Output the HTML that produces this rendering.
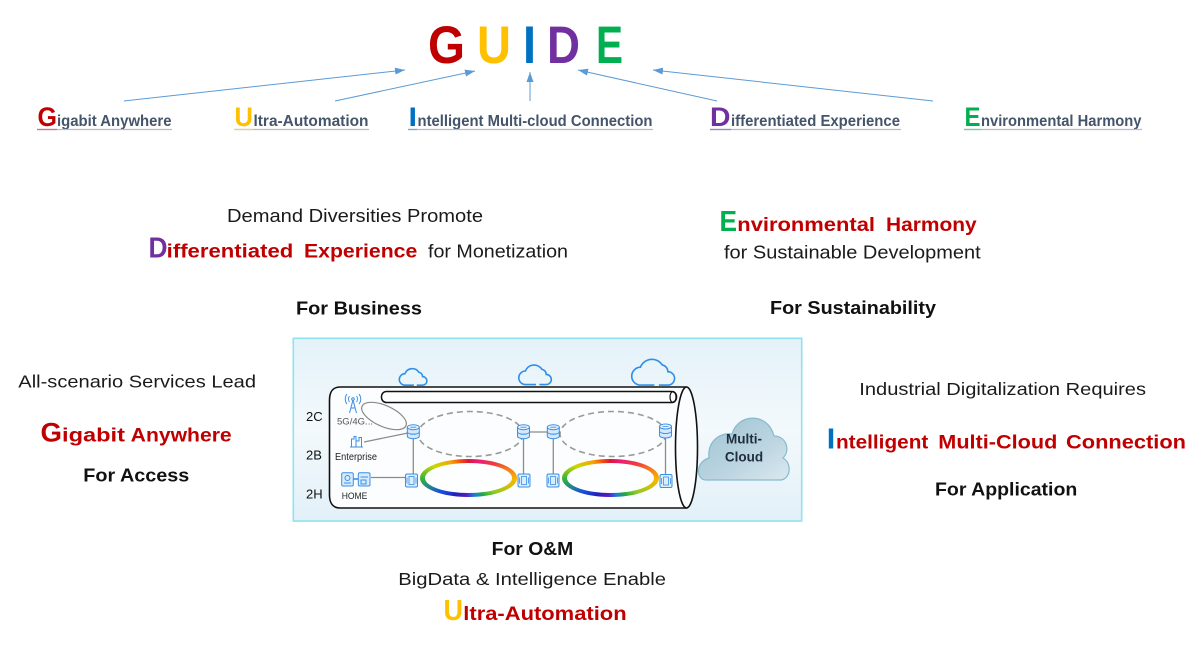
<!DOCTYPE html>
<html><head><meta charset="utf-8">
<style>
html,body{margin:0;padding:0;background:#fff;}
#wrap{position:relative;width:1200px;height:650px;overflow:hidden;background:#fff;}
svg{position:absolute;left:0;top:0;}
.ring{position:absolute;border-radius:50%;background:conic-gradient(#e0143c 0deg,#ea1f78 35deg,#f03a3a 62deg,#f7b800 92deg,#8ccc20 118deg,#20a848 138deg,#1878e0 162deg,#5a18c0 188deg,#2020b8 220deg,#1850e0 245deg,#30b040 268deg,#c8d800 288deg,#f8a000 312deg,#f04a10 335deg,#e0143c 360deg);}
.hole{position:absolute;border-radius:50%;background:#fdfeff;}
</style></head><body><div id="wrap">
<svg width="1200" height="650" font-family="'Liberation Sans', Arial, sans-serif">
<defs>
<marker id="ah" viewBox="0 0 10 7" refX="10" refY="3.5" markerWidth="10" markerHeight="7" markerUnits="userSpaceOnUse" orient="auto"><path d="M0,0 L10,3.5 L0,7 z" fill="#5b9bd5"/></marker>
<linearGradient id="boxg" x1="0" y1="0" x2="0" y2="1"><stop offset="0" stop-color="#e4f2f9"/><stop offset="0.5" stop-color="#f3f9fc"/><stop offset="1" stop-color="#e2f0f8"/></linearGradient>
<linearGradient id="mcg" x1="0" y1="0" x2="1" y2="1"><stop offset="0" stop-color="#9ec2d3"/><stop offset="0.6" stop-color="#bcd5e1"/><stop offset="1" stop-color="#dbe9f0"/></linearGradient>
<path id="cl" d="M20,26 L8,26 A8,8 0 0 1 7.5,10 A11,11 0 0 1 27,8 A6,6 0 0 1 32,14 A6,6 0 0 1 32,26 L24,26"/>
</defs>

<!-- GUIDE -->
<g font-weight="bold" font-size="53">
<text x="428" y="63" fill="#c00000" textLength="37" lengthAdjust="spacingAndGlyphs">G</text>
<text x="477" y="63" fill="#ffc000" textLength="34" lengthAdjust="spacingAndGlyphs">U</text>
<text x="523" y="63" fill="#0070c0" textLength="13" lengthAdjust="spacingAndGlyphs">I</text>
<text x="547" y="63" fill="#7030a0" textLength="33" lengthAdjust="spacingAndGlyphs">D</text>
<text x="596" y="63" fill="#00b050" textLength="27" lengthAdjust="spacingAndGlyphs">E</text>
</g>

<!-- arrows -->
<g stroke="#5b9bd5" stroke-width="1" fill="none" marker-end="url(#ah)">
<line x1="124" y1="101" x2="405" y2="70"/>
<line x1="335" y1="101" x2="475" y2="71"/>
<line x1="530" y1="101" x2="530" y2="72"/>
<line x1="717" y1="101" x2="578" y2="70"/>
<line x1="933" y1="101" x2="653" y2="70"/>
</g>

<!-- top labels -->
<g font-weight="bold">
<text x="37.5" y="126" font-size="27" fill="#c00000" textLength="19.5" lengthAdjust="spacingAndGlyphs">G</text>
<text x="57" y="126" font-size="15.5" fill="#44546a" textLength="114.5" lengthAdjust="spacingAndGlyphs">igabit Anywhere</text>
<text x="234.5" y="126" font-size="27" fill="#ffc000" textLength="18.5" lengthAdjust="spacingAndGlyphs">U</text>
<text x="253.5" y="126" font-size="15.5" fill="#44546a" textLength="115" lengthAdjust="spacingAndGlyphs">ltra-Automation</text>
<text x="408.5" y="126" font-size="27" fill="#0070c0" textLength="8.5" lengthAdjust="spacingAndGlyphs">I</text>
<text x="417.5" y="126" font-size="15.5" fill="#44546a" textLength="235" lengthAdjust="spacingAndGlyphs">ntelligent Multi-cloud Connection</text>
<text x="710" y="126" font-size="27" fill="#7030a0" textLength="20.5" lengthAdjust="spacingAndGlyphs">D</text>
<text x="731" y="126" font-size="15.5" fill="#44546a" textLength="169" lengthAdjust="spacingAndGlyphs">ifferentiated  Experience</text>
<text x="964.5" y="126" font-size="27" fill="#00b050" textLength="16" lengthAdjust="spacingAndGlyphs">E</text>
<text x="981" y="126" font-size="15.5" fill="#44546a" textLength="160.5" lengthAdjust="spacingAndGlyphs">nvironmental Harmony</text>
</g>
<g stroke-width="1.2">
<line x1="37" y1="129.5" x2="172" y2="129.5" stroke="#b3bccb"/><line x1="37" y1="129.5" x2="57" y2="129.5" stroke="#e07070"/>
<line x1="234" y1="129.5" x2="369" y2="129.5" stroke="#b3bccb"/><line x1="234" y1="129.5" x2="253" y2="129.5" stroke="#f5d070"/>
<line x1="408" y1="129.5" x2="653" y2="129.5" stroke="#b3bccb"/><line x1="408" y1="129.5" x2="417" y2="129.5" stroke="#70a8e0"/>
<line x1="710" y1="129.5" x2="901" y2="129.5" stroke="#b3bccb"/><line x1="710" y1="129.5" x2="731" y2="129.5" stroke="#a080c8"/>
<line x1="964" y1="129.5" x2="1142" y2="129.5" stroke="#b3bccb"/><line x1="964" y1="129.5" x2="981" y2="129.5" stroke="#70d0a0"/>
</g>

<!-- middle texts -->
<g fill="#1a1a1a" font-size="18">
<text x="227" y="222" textLength="256" lengthAdjust="spacingAndGlyphs">Demand Diversities Promote</text>
<text x="428" y="257.5" textLength="140" lengthAdjust="spacingAndGlyphs">for Monetization</text>
<text x="724" y="258.3" textLength="256.7" lengthAdjust="spacingAndGlyphs">for Sustainable Development</text>
<text x="18.3" y="387.3" font-size="17.5" textLength="237.7" lengthAdjust="spacingAndGlyphs">All-scenario Services Lead</text>
<text x="859.3" y="395" font-size="17.5" textLength="286.7" lengthAdjust="spacingAndGlyphs">Industrial Digitalization Requires</text>
<text x="398.3" y="585" font-size="17.5" textLength="267.7" lengthAdjust="spacingAndGlyphs">BigData &amp; Intelligence Enable</text>
</g>
<g fill="#111" font-size="18.5" font-weight="bold">
<text x="296" y="314.3" textLength="126" lengthAdjust="spacingAndGlyphs">For Business</text>
<text x="770" y="314" textLength="166" lengthAdjust="spacingAndGlyphs">For Sustainability</text>
<text x="83.3" y="481.7" textLength="106" lengthAdjust="spacingAndGlyphs">For Access</text>
<text x="935" y="495.7" textLength="142.3" lengthAdjust="spacingAndGlyphs">For Application</text>
<text x="491.7" y="555" textLength="81.6" lengthAdjust="spacingAndGlyphs">For O&amp;M</text>
</g>
<g font-weight="bold">
<text x="148.5" y="257.7" font-size="29" fill="#7030a0" textLength="19" lengthAdjust="spacingAndGlyphs">D</text>
<text x="166.7" y="257.7" font-size="19" fill="#c00000" textLength="126.6" lengthAdjust="spacingAndGlyphs">ifferentiated</text>
<text x="304" y="257.7" font-size="19" fill="#c00000" textLength="113.3" lengthAdjust="spacingAndGlyphs">Experience</text>

<text x="719.5" y="231" font-size="29" fill="#00b050" textLength="17.5" lengthAdjust="spacingAndGlyphs">E</text>
<text x="737.3" y="231" font-size="19" fill="#c00000" textLength="137.7" lengthAdjust="spacingAndGlyphs">nvironmental</text>
<text x="886" y="231" font-size="19" fill="#c00000" textLength="90.7" lengthAdjust="spacingAndGlyphs">Harmony</text>

<text x="40.5" y="441.7" font-size="27" fill="#c00000" textLength="21.5" lengthAdjust="spacingAndGlyphs">G</text>
<text x="62" y="441.7" font-size="19" fill="#c00000" textLength="63" lengthAdjust="spacingAndGlyphs">igabit</text>
<text x="130.7" y="441.7" font-size="19" fill="#c00000" textLength="101" lengthAdjust="spacingAndGlyphs">Anywhere</text>

<text x="826.8" y="448.3" font-size="29" fill="#0070c0" textLength="8.5" lengthAdjust="spacingAndGlyphs">I</text>
<text x="836" y="448.3" font-size="19" fill="#c00000" textLength="92.3" lengthAdjust="spacingAndGlyphs">ntelligent</text>
<text x="938.3" y="448.3" font-size="19" fill="#c00000" textLength="119" lengthAdjust="spacingAndGlyphs">Multi-Cloud</text>
<text x="1066" y="448.3" font-size="19" fill="#c00000" textLength="120" lengthAdjust="spacingAndGlyphs">Connection</text>

<text x="443.5" y="620" font-size="29" fill="#ffc000" textLength="19.5" lengthAdjust="spacingAndGlyphs">U</text>
<text x="463.3" y="620" font-size="19" fill="#c00000" textLength="163.3" lengthAdjust="spacingAndGlyphs">ltra-Automation</text>
</g>

<!-- diagram box -->
<rect x="293.3" y="338.3" width="508.4" height="182.7" fill="url(#boxg)" stroke="#8fe3ef" stroke-width="1.6"/>

<!-- blue clouds -->
<g fill="none" stroke="#2f8fe8" stroke-width="1.6">
<use href="#cl" transform="translate(399.5,366.5) scale(0.72)" vector-effect="non-scaling-stroke" style="stroke-width:2.2"/>
<use href="#cl" transform="translate(519,362.5) scale(0.85)" style="stroke-width:1.9"/>
<use href="#cl" transform="translate(632,356) scale(1.12)" style="stroke-width:1.45"/>
</g>

<!-- cylinder -->
<path d="M686.5,387 L340,387 C333,387 329.5,392 329.5,400 L329.5,495 C329.5,503 333,508 340,508 L686.5,508 Z" fill="#fbfdfe" stroke="none"/>
<path d="M686.5,387 L340,387 C333,387 329.5,392 329.5,400 L329.5,495 C329.5,503 333,508 340,508 L686.5,508" fill="none" stroke="#111" stroke-width="1.6"/>
<ellipse cx="686.5" cy="447.5" rx="11" ry="60.5" fill="#fbfdfe" stroke="#111" stroke-width="1.6"/>
<rect x="381.5" y="391.5" width="295" height="11" rx="5" fill="#fff" stroke="#111" stroke-width="1.5"/>
<ellipse cx="673" cy="397" rx="3" ry="5.5" fill="none" stroke="#111" stroke-width="1.2"/>

<!-- labels inside -->
<g fill="#111" font-size="13">
<text x="306" y="421">2C</text>
<text x="306" y="459.5">2B</text>
<text x="306" y="498.5">2H</text>
</g>
<text x="337" y="424.5" font-size="9" fill="#555" textLength="36" lengthAdjust="spacingAndGlyphs">5G/4G...</text>
<text x="335" y="460" font-size="10" fill="#222" textLength="42" lengthAdjust="spacingAndGlyphs">Enterprise</text>
<text x="341.7" y="499" font-size="9.5" fill="#222" textLength="25.6" lengthAdjust="spacingAndGlyphs">HOME</text>

<!-- gray ellipses & lines -->
<ellipse cx="384" cy="416" rx="24" ry="10.5" transform="rotate(24 384 416)" fill="none" stroke="#8a8a8a" stroke-width="1.2"/>
<ellipse cx="470.5" cy="434" rx="52.5" ry="22.5" fill="none" stroke="#9a9a9a" stroke-width="1.6" stroke-dasharray="6 4"/>
<ellipse cx="613" cy="434" rx="53" ry="22.5" fill="none" stroke="#9a9a9a" stroke-width="1.6" stroke-dasharray="6 4"/>
<g stroke="#8c8c8c" stroke-width="1.3">
<line x1="364" y1="442" x2="408" y2="433"/>
<line x1="371" y1="477.5" x2="405" y2="477.5"/>
<line x1="413.3" y1="438" x2="413.3" y2="474"/>
<line x1="523.5" y1="438" x2="523.5" y2="474"/>
<line x1="553.3" y1="438" x2="553.3" y2="474"/>
<line x1="665.5" y1="438" x2="665.5" y2="474"/>
<line x1="529" y1="432" x2="547.5" y2="432"/>
</g>

<!-- multi-cloud -->
<path d="M706,480 C696,480 695,462 709,458 C707,440 722,432 732,434 C738,413 768,412 774,436 C786,436 791,450 783,458 C793,464 790,480 780,480 Z" fill="url(#mcg)" stroke="#86bccb" stroke-width="1.2"/>
<text x="744" y="443.3" font-size="13.5" font-weight="bold" fill="#1f2d3d" text-anchor="middle">Multi-</text>
<text x="744" y="461.7" font-size="13.5" font-weight="bold" fill="#1f2d3d" text-anchor="middle">Cloud</text>

<!-- small icons -->
<g stroke="#3b8fe4" fill="none" stroke-width="1">
<line x1="353" y1="400" x2="349.5" y2="413"/><line x1="353" y1="400" x2="356.5" y2="413"/><line x1="350.5" y1="408" x2="355.5" y2="408"/>
<circle cx="353" cy="399" r="1.3"/>
<path d="M349.5,396 a5,5 0 0 0 0,6 M356.5,396 a5,5 0 0 1 0,6 M347,394 a8,8 0 0 0 0,10 M359,394 a8,8 0 0 1 0,10"/>
<path d="M351.5,447 L351.5,439 L354,439 L354,436.5 L356,436.5 L356,447 M356,441 L359,441 L359,437.5 L361.5,437.5 L361.5,447 M350,447 L363,447"/>
<rect x="341.7" y="472.7" width="11.6" height="13.3" rx="1.5" fill="#d8ebfc"/>
<circle cx="347.5" cy="478" r="2.5"/><line x1="344" y1="483" x2="351" y2="483"/>
<rect x="358.3" y="472.7" width="11.7" height="13.3" rx="1.5" fill="#d8ebfc"/>
<line x1="360.5" y1="477" x2="368" y2="477"/><rect x="361" y="480" width="5" height="4"/>
<line x1="353.3" y1="479" x2="358.3" y2="479" stroke-width="1.6"/>
</g>
</svg>

<div class="ring" style="left:420px;top:458.7px;width:97.3px;height:38.5px;"></div>
<div class="hole" style="left:425px;top:463px;width:87.3px;height:30px;"></div>
<div class="ring" style="left:561.5px;top:458.7px;width:97px;height:38.5px;"></div>
<div class="hole" style="left:566.5px;top:463px;width:87px;height:30px;"></div>

<svg width="1200" height="650">
<defs>
<g id="rt">
<path d="M-6,-4.5 L-6,4.5 A6,2.5 0 0 0 6,4.5 L6,-4.5" fill="#d3e8fc" stroke="#3b8fe4" stroke-width="1"/>
<ellipse cx="0" cy="-4.5" rx="6" ry="2.5" fill="#e8f3fe" stroke="#3b8fe4" stroke-width="1"/>
<path d="M-6,0 A6,2.5 0 0 0 6,0" fill="none" stroke="#3b8fe4" stroke-width="0.8"/>
<path d="M-3,-4.5 L3,-4.5 M-3,2.5 L3,2.5" stroke="#3b8fe4" stroke-width="0.8"/>
</g>
<g id="olt">
<rect x="-6" y="-6.5" width="12" height="13" rx="1.5" fill="#dbeefe" stroke="#3b8fe4" stroke-width="1"/>
<rect x="-2.5" y="-4" width="5" height="8" fill="none" stroke="#3b8fe4" stroke-width="0.8"/>
<path d="M-4.5,-3 L-4.5,3 M4.5,-3 L4.5,3" stroke="#3b8fe4" stroke-width="0.8"/>
</g>
</defs>
<use href="#rt" x="413.3" y="431.7"/>
<use href="#rt" x="523.5" y="431.7"/>
<use href="#rt" x="553.3" y="431.7"/>
<use href="#rt" x="665.5" y="431"/>
<use href="#olt" x="411.5" y="480.5"/>
<use href="#olt" x="524" y="480.5"/>
<use href="#olt" x="553" y="480.5"/>
<use href="#olt" x="666" y="481"/>
</svg>
</div></body></html>
